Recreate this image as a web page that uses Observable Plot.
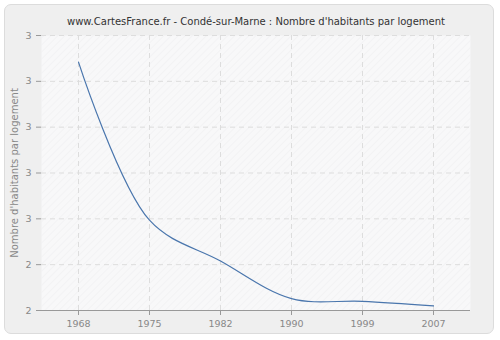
<!DOCTYPE html>
<html>
<head>
<meta charset="utf-8">
<script src="https://cdn.jsdelivr.net/npm/d3@7"></script>
<script src="https://cdn.jsdelivr.net/npm/@observablehq/plot@0.6"></script>
<style>
  html, body { margin: 0; padding: 0; background: #ffffff; }
  #wrap { position: relative; width: 500px; height: 340px; overflow: hidden; }
  #panel { position: absolute; left: 4px; top: 4px; width: 490px; height: 330px;
           background: #efefef; border: 1px solid #dcdcdc; border-radius: 7px; box-sizing: border-box; }
  #chart { position: absolute; left: 0; top: 0; }
</style>
</head>
<body>
<div id="wrap"><div id="panel"></div><div id="chart"></div></div>
<script>
const title = "www.CartesFrance.fr - Condé-sur-Marne : Nombre d'habitants par logement";
const yLabel = "Nombre d'habitants par logement";
const years = [1968, 1975, 1982, 1990, 1999, 2007];
const values = [2.842, 2.497, 2.408, 2.326, 2.320, 2.310];
const yTicks = [2.3, 2.4, 2.5, 2.6, 2.7, 2.8, 2.9];

const data = years.map((y, i) => ({year: String(y), value: values[i]}));
const xDomain = years.map(String);
const font = "DejaVu Sans, Verdana, sans-serif";

const plot = Plot.plot({
  width: 500,
  height: 340,
  marginLeft: 41,
  marginRight: 30,
  marginTop: 35,
  marginBottom: 30,
  style: {background: "transparent", fontFamily: font, fontSize: "9.5px", color: "#888"},
  x: {type: "point", domain: xDomain, padding: 0.5, label: null},
  y: {domain: [2.3, 2.9], label: null},
  marks: [
    Plot.frame({fill: "#f8f8f9", stroke: null}),
    Plot.frame({fill: "url(#hatch)", stroke: null}),
    Plot.gridX(xDomain, {stroke: "#dddddd", strokeOpacity: 1, strokeDasharray: "5,4"}),
    Plot.gridY(yTicks, {stroke: "#dddddd", strokeOpacity: 1, strokeDasharray: "5,4"}),
    Plot.axisY(yTicks, {tickFormat: d => String(Math.round(d + 1e-9)), tickSize: 5, tickPadding: 5, stroke: "#999", fill: "#888", label: null}),
    Plot.axisX(xDomain, {tickSize: 5, tickPadding: 5, stroke: "#999", fill: "#888", label: null}),
    Plot.ruleY([2.3], {stroke: "#999"}),
    Plot.ruleX([0], {x: () => null, stroke: "#999", frameAnchor: "left"}),
    Plot.line(data, {x: "year", y: "value", curve: "catmull-rom", stroke: "#4a76ad", strokeWidth: 1.2}),
    Plot.text([title], {frameAnchor: "top", dy: -18, fill: "#333", fontSize: 10, text: d => d}),
    Plot.text([yLabel], {frameAnchor: "left", textAnchor: "middle", dx: -27, rotate: -90, fill: "#888", fontSize: 10, text: d => d})
  ]
});

// hatch pattern for the plot background
const svgNS = "http://www.w3.org/2000/svg";
const defs = document.createElementNS(svgNS, "defs");
const pat = document.createElementNS(svgNS, "pattern");
pat.setAttribute("id", "hatch");
pat.setAttribute("patternUnits", "userSpaceOnUse");
pat.setAttribute("width", "5");
pat.setAttribute("height", "5");
pat.setAttribute("patternTransform", "rotate(45)");
const ln = document.createElementNS(svgNS, "line");
ln.setAttribute("x1", "0"); ln.setAttribute("y1", "0");
ln.setAttribute("x2", "0"); ln.setAttribute("y2", "5");
ln.setAttribute("stroke", "#eeeeef");
ln.setAttribute("stroke-width", "1");
pat.appendChild(ln);
defs.appendChild(pat);
plot.insertBefore(defs, plot.firstChild);

document.getElementById("chart").appendChild(plot);
</script>
</body>
</html>
